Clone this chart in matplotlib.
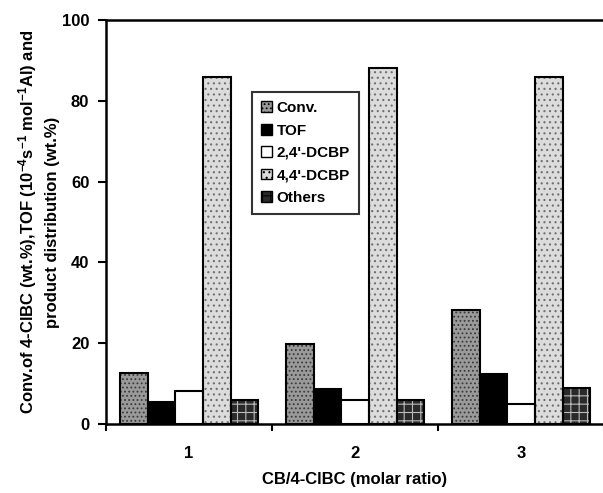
import matplotlib
matplotlib.use("Agg")
import matplotlib.pyplot as plt
from matplotlib.patches import Patch
import numpy as np

plt.rcParams['font.family'] = ['Liberation Sans', 'DejaVu Sans']
plt.rcParams['font.weight'] = 'bold'
plt.rcParams['mathtext.fontset'] = 'custom'
plt.rcParams['mathtext.rm'] = 'Liberation Sans:bold'
plt.rcParams['mathtext.bf'] = 'Liberation Sans:bold'
plt.rcParams['mathtext.default'] = 'bf'
plt.rcParams['hatch.linewidth'] = 0.8

categories = ['1', '2', '3']
series_names = ['Conv.', 'TOF', "2,4'-DCBP", "4,4'-DCBP", 'Others']
conv = [12.7, 19.8, 28.3]
tof = [5.5, 8.6, 12.3]
dcbp24 = [8.1, 6.0, 4.9]
dcbp44 = [85.9, 88.1, 85.9]
others = [6.0, 6.0, 9.0]
series = [conv, tof, dcbp24, dcbp44, others]

faces = ['#9a9a9a', '#000000', '#ffffff', '#dcdcdc', '#2a2a2a']
hatch_cols = ['#3a3a3a', '#000000', '#ffffff', '#707070', '#bbbbbb']
hatches = ['....', None, None, '...', '++']

fig = plt.figure(figsize=(6.03, 4.93), dpi=100)
ax = fig.add_axes([106/603, 1-424/493, 498/603, 404/493])

n = len(series)
bw = 1.0 / (n + 1)
x0 = np.arange(len(categories)) + 0.5
handles = []
for i, (vals, name) in enumerate(zip(series, series_names)):
    xs = x0 + (i - (n - 1) / 2) * bw
    if hatches[i]:
        ax.bar(xs, vals, width=bw, color=faces[i], edgecolor=hatch_cols[i],
               hatch=hatches[i], linewidth=0, zorder=2)
    ax.bar(xs, vals, width=bw, facecolor=faces[i] if not hatches[i] else 'none',
           edgecolor='black', linewidth=1.5, zorder=3)
    handles.append(Patch(facecolor=faces[i], edgecolor='black',
                         hatch=hatches[i], linewidth=1.0, label=name))

ax.set_xlim(0, 3)
ax.set_ylim(0, 100)
ax.set_yticks([0, 20, 40, 60, 80, 100])
ax.set_xticks([0, 1, 2, 3])
ax.set_xticklabels([])
ax.set_xticks(x0, minor=True)
ax.set_xticklabels(categories, minor=True)
ax.tick_params(axis='x', which='minor', length=0, pad=16, labelsize=12)
ax.tick_params(axis='x', which='major', direction='out', length=5, width=1.5)
ax.tick_params(axis='y', direction='out', length=6, width=1.5, pad=6, labelsize=12)
for lbl in ax.get_yticklabels() + ax.get_xticklabels(minor=True):
    lbl.set_fontweight('bold')

for s in ['left', 'bottom', 'top']:
    ax.spines[s].set_linewidth(1.8)
ax.spines['right'].set_visible(False)

ax.set_xlabel('CB/4-ClBC (molar ratio)', fontsize=12, fontweight='bold', labelpad=8)
ax.set_ylabel("Conv.of 4-ClBC (wt.%),TOF (10$^{-4}$s$^{-1}$ mol$^{-1}$Al) and\nproduct distribution (wt.%)",
              fontsize=12, fontweight='bold', labelpad=1.5, linespacing=1.5)

leg = ax.legend(handles=handles, loc='upper left', bbox_to_anchor=(146/498, 1 - 72/404),
                frameon=True, fancybox=False, handlelength=0.7,
                handleheight=0.7, handletextpad=0.3, labelspacing=0.55,
                borderpad=0.6, borderaxespad=0, prop={'weight': 'bold', 'size': 11})
leg.get_frame().set_edgecolor('black')
leg.get_frame().set_linewidth(1.5)

fig.savefig('out.png', dpi=100)
